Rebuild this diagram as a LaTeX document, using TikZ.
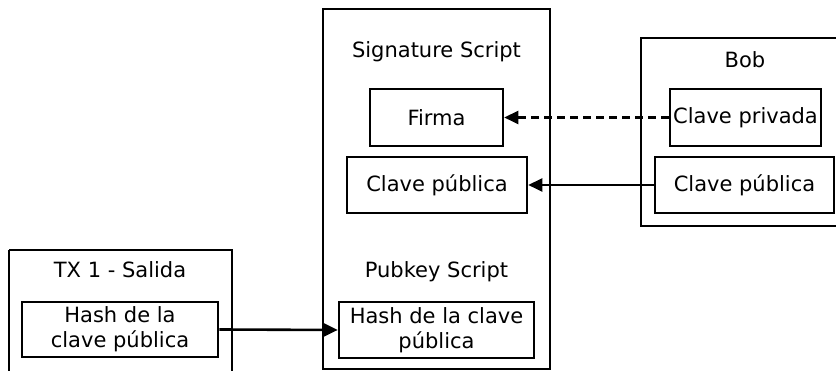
\documentclass[tikz,border=0pt]{standalone}
\usepackage{fontspec}
\setmainfont{DejaVu Sans}
\usetikzlibrary{arrows.meta}
\begin{document}
\begin{tikzpicture}[x=1pt,y=-1pt,
  every node/.style={font=\fontsize{21}{25}\selectfont, inner sep=0pt},
  frame/.style={draw, line width=2.4pt},
  item/.style={draw, line width=2.6pt, align=center},
  title/.style={anchor=base},
  link/.style={line width=2.6pt, -{Triangle[length=14pt,width=13pt]}},
  dashlink/.style={link, dash pattern=on 8pt off 5pt}]
  \useasboundingbox (0,0) rectangle (836,371);

  % outer frames
  \draw[frame] (9,250) -- (9,380) (9,250) -- (232,250) -- (232,380);
  \draw[frame] (323,9) rectangle (550,369);
  \draw[frame] (850,38) -- (641,38) -- (641,226) -- (850,226);

  % titles
  \node[title] (ttx)  at (120,278) {TX 1 - Salida};
  \node[title] (tsig) at (436.5,58) {Signature Script};
  \node[title] (tpub) at (436.5,278) {Pubkey Script};
  \node[title] (tbob) at (745,68) {Bob};

  % inner boxes
  \node[item, minimum width=196pt, minimum height=55pt] (txhash) at (120,329.5)
     {Hash de la\\clave pública};
  \node[item, minimum width=133pt, minimum height=57pt] (firma) at (436.5,117.5) {Firma};
  \node[item, minimum width=180pt, minimum height=56pt] (sigpub) at (437,185) {Clave pública};
  \node[item, minimum width=195pt, minimum height=56pt] (hash) at (436.5,330)
     {Hash de la clave\\pública};
  \node[item, minimum width=151pt, minimum height=57pt] (priv) at (745.5,117.5) {Clave privada};
  \node[item, minimum width=179pt, minimum height=56pt] (bobpub) at (744.5,185) {Clave pública};

  % connectors
  \draw[dashlink] (priv.west) -- (firma.east);
  \draw[link] (bobpub.west) -- (sigpub.east);
  \draw[link] (txhash.east) -- (hash.west);
\end{tikzpicture}
\end{document}
